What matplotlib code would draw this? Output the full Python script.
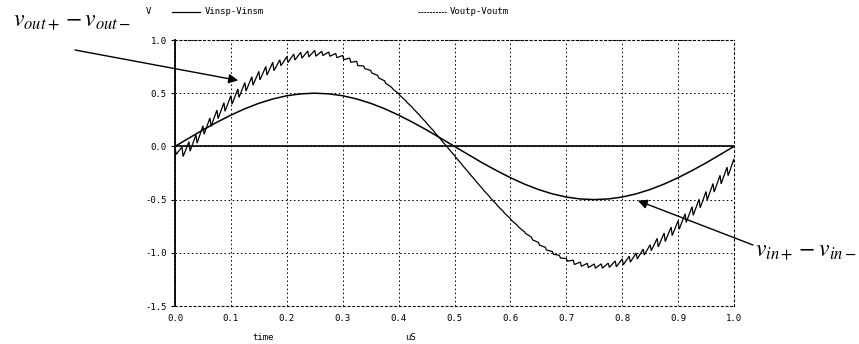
import numpy as np
import matplotlib
matplotlib.use("Agg")
import matplotlib.pyplot as plt
from matplotlib.lines import Line2D

plt.rcParams['mathtext.fontset'] = 'stix'

# ---- data ----
time_vin = np.linspace(0.0, 1.0, 41)          # uS
vin = [0.000, 0.078, 0.155, 0.227, 0.294, 0.354, 0.405, 0.446, 0.476, 0.494,
       0.500, 0.494, 0.476, 0.446, 0.405, 0.354, 0.294, 0.227, 0.155, 0.078,
       0.000, -0.078, -0.155, -0.227, -0.294, -0.354, -0.405, -0.446, -0.476, -0.494,
       -0.500, -0.494, -0.476, -0.446, -0.405, -0.354, -0.294, -0.227, -0.155, -0.078,
       0.000]

time_clk = np.linspace(0.0, 1.0, 81)          # clock instants, uS
vout_mid = [-0.040, -0.050, 0.000, 0.070, 0.154, 0.228, 0.301, 0.370, 0.437, 0.500,
            0.560, 0.615, 0.665, 0.711, 0.751, 0.786, 0.816, 0.840, 0.857, 0.869,
            0.875, 0.874, 0.867, 0.854, 0.835, 0.810, 0.780, 0.743, 0.702, 0.655,
            0.604, 0.548, 0.488, 0.424, 0.357, 0.287, 0.214, 0.139, 0.062, -0.015,
            -0.094, -0.172, -0.250, -0.328, -0.404, -0.478, -0.551, -0.620, -0.687, -0.750,
            -0.810, -0.865, -0.915, -0.961, -1.001, -1.036, -1.066, -1.090, -1.107, -1.119,
            -1.125, -1.124, -1.117, -1.104, -1.085, -1.060, -1.030, -0.993, -0.952, -0.905,
            -0.854, -0.798, -0.738, -0.674, -0.607, -0.537, -0.464, -0.389, -0.312, -0.235,
            -0.156]
vout_ripple = ([0.07, 0.09, 0.09] + [0.08] * 12 + [0.055] * 6 + [0.04] * 6 + [0.025] * 4
               + [0.015] * 20 + [0.025] * 6 + [0.04] * 6 + [0.055] * 6 + [0.08] * 12)

xticks = [0.0, 0.1, 0.2, 0.3, 0.4, 0.5, 0.6, 0.7, 0.8, 0.9, 1.0]
yticks = [-1.5, -1.0, -0.5, 0.0, 0.5, 1.0]
legend_labels = ["Vinsp-Vinsm", "Voutp-Voutm"]

# ---- figure ----
W, H = 859, 344
fig = plt.figure(figsize=(W / 100, H / 100), dpi=100)
ax = fig.add_axes([175 / W, 1 - 306 / H, (734 - 175) / W, (306 - 40) / H])

mono = 'DejaVu Sans Mono'

# Vout sawtooth path: high at clock edge, quick drop, then slope to next high
mid = np.asarray(vout_mid)
rip = np.asarray(vout_ripple)
hi = mid + rip / 2
lo = mid - rip / 2
d = 0.002
tx = np.column_stack([time_clk, time_clk + d]).ravel()
ty = np.column_stack([hi, lo]).ravel()
ax.plot(tx, ty, color='black', lw=0.9, solid_joinstyle='miter')

ax.plot(time_vin, vin, color='black', lw=1.1)
ax.axhline(0.0, color='black', lw=1.2)

ax.set_xlim(0, 1.0)
ax.set_ylim(-1.5, 1.0)
ax.set_xticks(xticks)
ax.set_yticks(yticks)
ax.set_xticklabels([f"{v:.1f}" for v in xticks], fontfamily=mono, fontsize=6.5)
ax.set_yticklabels([f"{v:.1f}" for v in yticks], fontfamily=mono, fontsize=6.5)
ax.tick_params(axis='x', length=0, pad=6)
ax.tick_params(axis='y', length=3, width=0.8, direction='out', pad=3)

dots = (0, (1.6, 2.6))
ax.grid(True, color='black', lw=0.7, linestyle=dots)
for s in ['top', 'right', 'bottom']:
    ax.spines[s].set_linestyle(dots)
    ax.spines[s].set_linewidth(0.8)
ax.spines['left'].set_linewidth(1.3)

# axis labels
fig.text(263 / W, 1 - 337 / H, "time", fontfamily=mono, fontsize=6.5, ha='center', va='center')
fig.text(410 / W, 1 - 337 / H, "uS", fontfamily=mono, fontsize=6.5, ha='center', va='center')

# top legend
fig.text(148 / W, 1 - 12 / H, "V", fontfamily=mono, fontsize=6.5, ha='center', va='center')
fig.add_artist(Line2D([172 / W, 200 / W], [1 - 12 / H, 1 - 12 / H], color='black', lw=0.9))
fig.text(205 / W, 1 - 12 / H, legend_labels[0], fontfamily=mono, fontsize=6.5, ha='left', va='center')
fig.add_artist(Line2D([418 / W, 446 / W], [1 - 12 / H, 1 - 12 / H], color='black', lw=0.7,
                      linestyle=(0, (2, 1))))
fig.text(450 / W, 1 - 12 / H, legend_labels[1], fontfamily=mono, fontsize=6.5, ha='left', va='center')

# annotations
fig.text(72 / W, 1 - 20 / H, r"$v_{out+} - v_{out-}$", fontsize=17, ha='center', va='center')
ax.annotate("", xy=(0.113, 0.62), xycoords='data',
            xytext=(75 / W, 1 - 50 / H), textcoords='figure fraction',
            arrowprops=dict(arrowstyle='-|>', color='black', lw=1.0,
                            mutation_scale=14, shrinkA=0, shrinkB=0))
fig.text(806 / W, 1 - 250 / H, r"$v_{in+} - v_{in-}$", fontsize=17, ha='center', va='center')
ax.annotate("", xy=(0.828, -0.51), xycoords='data',
            xytext=(753 / W, 1 - 245 / H), textcoords='figure fraction',
            arrowprops=dict(arrowstyle='-|>', color='black', lw=1.0,
                            mutation_scale=14, shrinkA=0, shrinkB=0))

fig.savefig("out.png", dpi=100)
